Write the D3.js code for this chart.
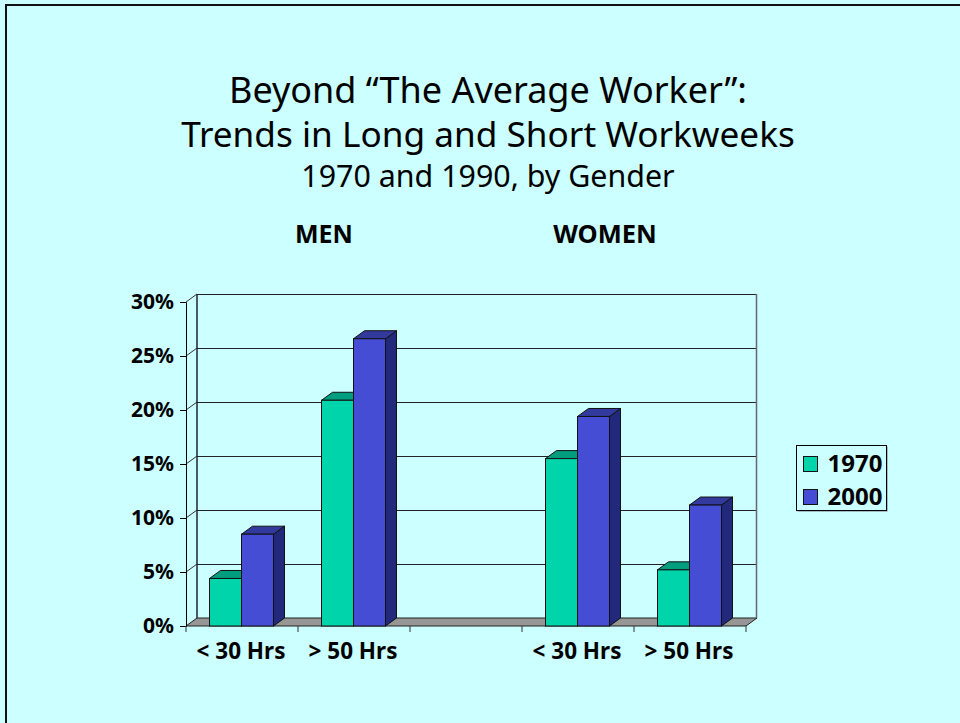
<!DOCTYPE html>
<html lang="en">
<head>
  <meta charset="utf-8">
  <title>Beyond The Average Worker</title>
  <style>
  html, body { margin: 0; padding: 0; background: #fff; }
  svg { display: block; }
  text { font-family: "Noto Sans", "Open Sans", sans-serif; fill: #000; }
  .lab { font-weight: bold; font-size: 22.5px; }
  .ylab { font-weight: bold; font-size: 21px; }
  .leg { font-weight: bold; font-size: 24px; }
  </style>
  <script src="https://d3js.org/d3.v7.min.js"></script>
</head>
<body>
  <svg width="960" height="723"></svg>
  <script>
  var groups = ["m30", "m50", "gap", "w30", "w50"];
  var groupLabels = ["< 30 Hrs", "> 50 Hrs", "", "< 30 Hrs", "> 50 Hrs"];
  var years = ["1970", "2000"];
  var values1970 = [4.4, 20.9, null, 15.5, 5.2];
  var values2000 = [8.5, 26.6, null, 19.4, 11.2];
  var yTicks = [0, 5, 10, 15, 20, 25, 30];
  var colors = {front: ["#00d4aa", "#444dd4"], top: ["#009e7f", "#333a9e"], side: ["#006b55", "#22287a"]};

  var svg = d3.select("svg");
  var depthX = 11, depthY = -8;

  // slide background and its border
  svg.append("rect").attr("width", 960).attr("height", 723).attr("fill", "#ccffff");
  svg.append("path").attr("d", "M6,723V5H960").attr("fill", "none").attr("stroke", "#111").attr("stroke-width", 2);

  var x = d3.scaleBand().domain(groups).range([186, 746]);
  var x1 = d3.scaleBand().domain(years).range([23.5, 87.5]);
  var y = d3.scaleLinear().domain([0, 30]).range([626, 302]);

  var g = svg.append("g");

  // floor
  g.append("path")
    .attr("d", "M" + x.range()[0] + "," + y(0) + "l" + depthX + "," + depthY + "H" + (x.range()[1] + depthX) + "l" + (-depthX) + "," + (-depthY) + "Z")
    .attr("fill", "#969696").attr("stroke", "#222");

  // back wall gridlines
  g.selectAll(".grid").data(yTicks.slice(1)).enter().append("line")
    .attr("class", "grid")
    .attr("x1", x.range()[0] + depthX).attr("x2", x.range()[1] + depthX)
    .attr("y1", function(d) { return Math.round(y(d) + depthY) + 0.5; })
    .attr("y2", function(d) { return Math.round(y(d) + depthY) + 0.5; })
    .attr("stroke", "#222").attr("stroke-width", 1.2);
  g.selectAll(".side").data(yTicks.slice(1)).enter().append("line")
    .attr("class", "side")
    .attr("x1", x.range()[0]).attr("x2", x.range()[0] + depthX)
    .attr("y1", function(d) { return y(d); })
    .attr("y2", function(d) { return y(d) + depthY; })
    .attr("stroke", "#333");
  g.append("line")
    .attr("x1", x.range()[0] + depthX).attr("x2", x.range()[0] + depthX)
    .attr("y1", y(30) + depthY).attr("y2", y(0) + depthY)
    .attr("stroke", "#223").attr("stroke-width", 1.5);
  g.append("line")
    .attr("x1", x.range()[1] + depthX - 0.5).attr("x2", x.range()[1] + depthX - 0.5)
    .attr("y1", y(30) + depthY).attr("y2", y(0) + depthY)
    .attr("stroke", "#667").attr("stroke-width", 1.5);

  // axes
  var axisY = d3.axisLeft(y).tickValues(yTicks).tickSize(6).tickPadding(6).tickFormat(function(d) { return d + "%"; });
  var yAxis = g.append("g").attr("transform", "translate(" + x.range()[0] + ",0)").call(axisY);
  yAxis.selectAll("text").attr("class", "ylab");

  var xAxis = d3.axisBottom(x).tickSize(0).tickPadding(17).tickFormat(function(d, i) { return groupLabels[i]; });
  var xg = g.append("g").attr("transform", "translate(0," + y(0) + ")").call(xAxis);
  xg.select(".domain").remove();
  xg.selectAll("text").attr("class", "lab").attr("dx", -1);
  var edges = groups.map(function(d) { return x(d); }).concat(x.range()[1]);
  g.selectAll(".xtick").data(edges).enter().append("line")
    .attr("class", "xtick")
    .attr("x1", function(d) { return d; }).attr("x2", function(d) { return d; })
    .attr("y1", y(0)).attr("y2", y(0) + 6)
    .attr("stroke", "#333");

  // 3D bars
  var bars = [];
  groups.forEach(function(gr, i) {
    if (values1970[i] != null) bars.push({group: gr, year: 0, value: values1970[i]});
    if (values2000[i] != null) bars.push({group: gr, year: 1, value: values2000[i]});
  });
  var bw = x1.bandwidth();
  var bar = g.selectAll(".bar3d").data(bars).enter().append("g")
    .attr("class", "bar3d")
    .attr("transform", function(d) { return "translate(" + (x(d.group) + x1(years[d.year])) + "," + y(d.value) + ")"; });
  bar.append("path")
    .attr("d", function(d) { return "M" + bw + ",0l" + depthX + "," + depthY + "V" + (y(0) - y(d.value) + depthY) + "l" + (-depthX) + "," + (-depthY) + "Z"; })
    .attr("fill", function(d) { return colors.side[d.year]; }).attr("stroke", "#111");
  bar.append("path")
    .attr("d", "M0,0l" + depthX + "," + depthY + "h" + bw + "l" + (-depthX) + "," + (-depthY) + "Z")
    .attr("fill", function(d) { return colors.top[d.year]; }).attr("stroke", "#111");
  bar.append("rect")
    .attr("width", bw)
    .attr("height", function(d) { return y(0) - y(d.value); })
    .attr("fill", function(d) { return colors.front[d.year]; }).attr("stroke", "#111");

  // legend
  var legend = svg.append("g").attr("transform", "translate(796.5,445.5)");
  legend.append("rect").attr("x", 1).attr("y", 1).attr("width", 90).attr("height", 65).attr("fill", "#778");
  legend.append("rect").attr("width", 90).attr("height", 65).attr("fill", "#ccffff").attr("stroke", "#000");
  var item = legend.selectAll(".item").data(years).enter().append("g")
    .attr("class", "item")
    .attr("transform", function(d, i) { return "translate(7," + (11 + i * 33) + ")"; });
  item.append("rect").attr("width", 14).attr("height", 15)
    .attr("fill", function(d, i) { return colors.front[i]; }).attr("stroke", "#111");
  item.append("text").attr("class", "leg").attr("x", 24).attr("y", 15.5).text(function(d) { return d; });

  // titles
  var titles = [
    {text: "Beyond \u201CThe Average Worker\u201D:", cx: 488, y: 103, size: 36, weight: "normal"},
    {text: "Trends in Long and Short Workweeks", cx: 488, y: 147, size: 35.2, weight: "normal"},
    {text: "1970 and 1990, by Gender", cx: 488, y: 187, size: 30.4, weight: "normal"},
    {text: "MEN", cx: 324, y: 243, size: 25, weight: "bold"},
    {text: "WOMEN", cx: 605, y: 243, size: 25.5, weight: "bold"}
  ];
  svg.selectAll(".ttl").data(titles).enter().append("text")
    .attr("class", "ttl")
    .attr("x", function(d) { return d.cx; })
    .attr("y", function(d) { return d.y; })
    .attr("text-anchor", "middle")
    .style("font-size", function(d) { return d.size + "px"; })
    .style("font-weight", function(d) { return d.weight; })
    .text(function(d) { return d.text; });
  </script>
</body>
</html>
